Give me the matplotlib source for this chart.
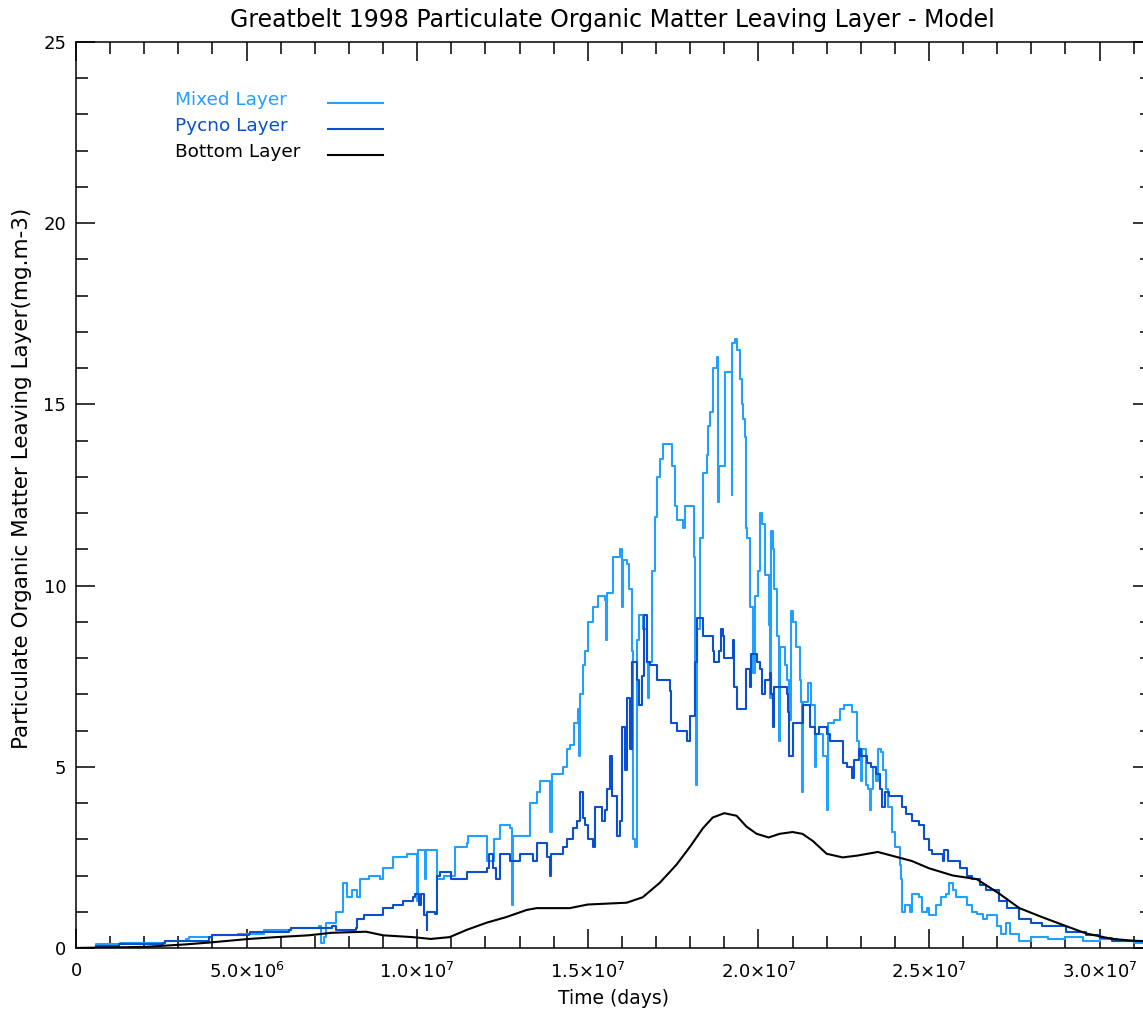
import numpy as np
import matplotlib
matplotlib.use("Agg")
import matplotlib.pyplot as plt
from matplotlib.ticker import MultipleLocator, FuncFormatter

# ---- data (time in units of 1e6 days, values in mg.m-3) ----
mixed_t = [0, 0.59, 0.6, 1.26, 1.3, 2.55, 2.6, 3.22, 3.3, 3.9, 4.0, 4.69, 4.75, 5.48, 5.5, 6.24, 6.3, 7.12,
           7.18, 7.26, 7.32, 7.62, 7.82, 7.94, 8.1, 8.23, 8.32, 8.6, 8.9, 8.99, 9.2, 9.29, 9.58, 9.7, 9.95,
           9.99, 10.03, 10.2, 10.22, 10.26, 10.5, 10.57, 10.8, 11.04, 11.1, 11.45, 11.5, 12.0, 12.04, 12.21,
           12.25, 12.42, 12.71, 12.77, 12.8, 13.21, 13.3, 13.5, 13.59, 13.8, 13.88, 13.95, 14.26, 14.38,
           14.47, 14.6, 14.7, 14.73, 14.76, 14.85, 14.91, 15.0, 15.14, 15.3, 15.5, 15.52, 15.55, 15.64,
           15.75, 15.93, 15.99, 16.02, 16.14, 16.2, 16.29, 16.3, 16.32, 16.37, 16.43, 16.5, 16.61, 16.73,
           16.75, 16.8, 16.87, 16.96, 17.02, 17.11, 17.2, 17.4, 17.46, 17.55, 17.6, 17.78, 17.85, 18.07,
           18.1, 18.13, 18.16, 18.19, 18.3, 18.37, 18.48, 18.52, 18.57, 18.66, 18.78, 18.83, 18.86, 18.95,
           19.01, 19.2, 19.22, 19.24, 19.3, 19.36, 19.45, 19.51, 19.55, 19.6, 19.65, 19.68, 19.74, 19.83,
           19.85, 19.9, 19.98, 20.04, 20.12, 20.2, 20.3, 20.33, 20.36, 20.42, 20.47, 20.55, 20.59, 20.62,
           20.77, 20.85, 20.9, 20.95, 21.0, 21.1, 21.21, 21.25, 21.27, 21.3, 21.44, 21.55, 21.65, 21.7,
           21.9, 22.0, 22.05, 22.23, 22.4, 22.5, 22.7, 22.75, 22.88, 22.95, 23.0, 23.05, 23.15, 23.2,
           23.26, 23.3, 23.35, 23.45, 23.5, 23.6, 23.65, 23.75, 23.8, 23.93, 24.0, 24.14, 24.18, 24.22,
           24.3, 24.43, 24.5, 24.72, 24.8, 24.93, 25.0, 25.22, 25.35, 25.51, 25.6, 25.69, 25.8, 26.1,
           26.27, 26.4, 26.57, 26.7, 27.0, 27.1, 27.25, 27.36, 27.65, 28.0, 28.5, 29.0, 29.5, 30.0, 30.5,
           31.0, 31.5]
mixed_v = [0.0, 0.05, 0.1, 0.1, 0.15, 0.15, 0.2, 0.25, 0.3, 0.3, 0.35, 0.35, 0.4, 0.4, 0.5, 0.5, 0.55, 0.6,
           0.15, 0.3, 0.7, 1.0, 1.8, 1.4, 1.6, 1.4, 1.9, 2.0, 1.9, 2.2, 2.2, 2.5, 2.5, 2.6, 2.6,
           1.3, 2.7, 2.7, 1.9, 2.7, 2.7, 1.9, 2.0, 2.0, 2.8, 2.9, 3.1, 3.1, 2.4, 2.4,
           3.0, 3.4, 3.3, 1.2, 3.1, 3.1, 4.0, 4.3, 4.6, 4.6, 3.2, 4.8, 5.0, 5.5,
           5.6, 6.2, 6.6, 5.3, 7.0, 7.8, 8.2, 9.0, 9.4, 9.7, 9.6, 8.5, 9.8, 9.8,
           10.8, 11.0, 9.4, 10.7, 10.6, 9.9, 9.6, 8.2, 3.0, 2.8, 8.5, 9.2, 8.8, 7.9,
           6.9, 7.9, 10.4, 11.9, 13.0, 13.5, 13.9, 13.9, 13.3, 12.2, 11.8, 11.6, 12.2, 12.2,
           10.8, 6.9, 4.5, 8.8, 11.3, 13.1, 13.6, 14.4, 14.8, 16.0, 16.3, 12.3, 13.3, 13.3,
           15.9, 15.9, 12.5, 16.7, 16.8, 16.5, 15.7, 15.0, 14.6, 14.1, 11.6, 11.3, 9.4, 9.4,
           7.6, 9.7, 10.4, 12.0, 11.7, 10.3, 8.9, 6.9, 11.5, 11.0, 9.9, 8.6, 5.7, 8.3,
           7.8, 7.4, 6.3, 9.3, 9.0, 8.3, 7.4, 6.8, 4.3, 6.8, 7.3, 6.7, 5.0, 5.9,
           5.3, 3.8, 6.2, 6.3, 6.6, 6.7, 6.7, 6.5, 5.7, 5.5, 4.6, 5.5, 4.5, 4.4,
           3.8, 4.4, 5.0, 4.6, 5.5, 5.4, 4.9, 4.4, 3.9, 3.2, 2.8, 2.3, 1.9, 1.0,
           1.2, 1.0, 1.5, 1.4, 1.0, 1.1, 0.9, 1.2, 1.4, 1.5, 1.8, 1.6, 1.4, 1.2,
           1.0, 0.95, 0.8, 0.9, 0.6, 0.4, 0.7, 0.4, 0.2, 0.3, 0.25, 0.3, 0.2, 0.25, 0.18,
           0.15, 0.15]

pycno_t = [0, 0.59, 1.26, 2.55, 2.6, 3.9, 4.0, 5.07, 5.1, 6.24, 6.3, 7.5, 7.62, 8.2, 8.23, 8.41, 8.45, 8.9,
           8.99, 9.3, 9.58, 9.87, 9.95, 10.05, 10.1, 10.2, 10.28, 10.3, 10.52, 10.57, 10.66, 11.0, 11.45,
           12.04, 12.1, 12.21, 12.3, 12.42, 12.71, 13.0, 13.39, 13.5, 13.8, 13.88, 13.92, 14.26, 14.4,
           14.56, 14.67, 14.76, 14.85, 14.91, 15.0, 15.14, 15.2, 15.41, 15.5, 15.55, 15.64, 15.7, 15.85,
           15.93, 16.0, 16.1, 16.14, 16.25, 16.29, 16.43, 16.5, 16.58, 16.65, 16.73, 16.81, 17.02, 17.4,
           17.45, 17.6, 17.9, 18.0, 18.07, 18.13, 18.19, 18.37, 18.48, 18.66, 18.7, 18.86, 18.9, 18.95,
           19.0, 19.24, 19.26, 19.28, 19.36, 19.6, 19.65, 19.74, 19.78, 19.95, 20.04, 20.12, 20.2, 20.33,
           20.36, 20.42, 20.45, 20.83, 20.88, 20.91, 21.0, 21.27, 21.3, 21.44, 21.5, 21.65, 21.79, 22.0,
           22.09, 22.47, 22.6, 22.73, 22.8, 22.96, 23.02, 23.17, 23.3, 23.46, 23.55, 23.61, 23.7, 23.84,
           24.05, 24.2, 24.34, 24.5, 24.72, 24.85, 25.01, 25.1, 25.4, 25.45, 25.55, 25.9, 26.1, 26.27,
           26.5, 26.68, 27.06, 27.3, 27.65, 28.0, 28.32, 29.03, 29.61, 30.0, 30.37, 31.5]
pycno_v = [0.0, 0.05, 0.1, 0.15, 0.2, 0.3, 0.35, 0.4, 0.45, 0.5, 0.55, 0.6, 0.5, 0.55, 0.8, 0.8, 0.9, 0.9,
           1.1, 1.2, 1.3, 1.4, 1.5, 1.2, 1.5, 0.9, 0.5, 1.0, 0.95, 2.0, 2.1, 1.9, 2.1,
           2.2, 2.6, 2.2, 1.9, 2.6, 2.4, 2.6, 2.4, 2.9, 2.5, 2.0, 2.6, 2.8, 3.0,
           3.3, 3.5, 4.3, 3.6, 3.4, 3.0, 2.8, 3.9, 3.5, 3.8, 4.4, 5.3, 4.2, 3.1,
           3.5, 6.1, 4.9, 6.9, 5.5, 7.9, 7.4, 6.7, 7.5, 9.2, 7.9, 7.8, 7.4, 7.1,
           6.2, 6.0, 5.7, 6.4, 6.4, 7.9, 9.1, 8.6, 8.6, 8.2, 7.9, 8.2, 8.8, 8.6,
           8.0, 8.0, 8.5, 7.2, 6.6, 6.6, 7.7, 7.2, 8.1, 7.9, 7.7, 7.0, 7.4, 7.6,
           7.0, 6.1, 7.2, 7.0, 6.5, 5.3, 6.2, 6.2, 6.7, 6.7, 6.1, 5.9, 6.1, 5.9,
           5.7, 5.1, 5.0, 4.7, 5.2, 5.5, 5.3, 5.1, 5.0, 4.8, 4.4, 3.9, 4.3, 4.2,
           4.2, 3.9, 3.7, 3.5, 3.4, 3.0, 2.7, 2.6, 2.4, 2.7, 2.4, 2.2, 2.0, 1.9,
           1.75, 1.6, 1.3, 1.1, 0.8, 0.7, 0.6, 0.45, 0.35, 0.27, 0.2, 0.2]

bottom_t = [0, 2.0, 3.22, 3.9, 5.07, 5.86, 6.82, 7.5, 8.5, 9.0, 9.87, 10.4, 10.95, 11.45, 12.04, 12.6,
            13.21, 13.5, 14.47, 15.0, 16.14, 16.61, 17.11, 17.6, 18.0, 18.37, 18.66, 19.0, 19.36, 19.65,
            19.95, 20.3, 20.62, 21.0, 21.29, 21.6, 22.0, 22.47, 22.9, 23.5, 24.1, 24.5, 25.0, 25.7, 26.4,
            27.06, 27.65, 28.32, 29.03, 29.61, 30.37, 31.0, 31.5]
bottom_v = [0.0, 0.03, 0.1, 0.15, 0.25, 0.3, 0.35, 0.42, 0.45, 0.35, 0.3, 0.25, 0.3, 0.5, 0.7, 0.85,
            1.05, 1.1, 1.1, 1.2, 1.25, 1.4, 1.8, 2.3, 2.8, 3.3, 3.6, 3.72, 3.65, 3.35,
            3.15, 3.05, 3.15, 3.2, 3.15, 2.95, 2.6, 2.5, 2.55, 2.65, 2.5, 2.4, 2.2, 2.0, 1.9,
            1.5, 1.1, 0.85, 0.6, 0.4, 0.25, 0.2, 0.18]

series_names = ["Mixed Layer", "Pycno Layer", "Bottom Layer"]
series_colors = ["#22A0FF", "#0A4FCB", "#000000"]
series_steps = ["steps-post", "steps-post", "default"]

title = "Greatbelt 1998 Particulate Organic Matter Leaving Layer - Model"
xlabel = "Time (days)"
ylabel = "Particulate Organic Matter Leaving Layer(mg.m-3)"

# ---- figure ----
W, H = 1143, 1010
fig = plt.figure(figsize=(W / 100, H / 100), dpi=100)
left, right, top, bottom = 76, 1152, 42, 948
ax = fig.add_axes([left / W, (H - bottom) / H, (right - left) / W, (bottom - top) / H])

scale = 1e6
for t, v, c, ds in zip([mixed_t, pycno_t, bottom_t], [mixed_v, pycno_v, bottom_v], series_colors, series_steps):
    ax.plot(np.array(t) * scale, v, color=c, lw=1.5, drawstyle=ds)

ax.set_xlim(0, 3.1536e7)
ax.set_ylim(0, 25)

ax.xaxis.set_major_locator(MultipleLocator(5e6))
ax.xaxis.set_minor_locator(MultipleLocator(1e6))
ax.yaxis.set_major_locator(MultipleLocator(5))
ax.yaxis.set_minor_locator(MultipleLocator(1))


def xfmt(val, pos):
    if abs(val) < 1:
        return "0"
    e = int(np.floor(np.log10(abs(val))))
    m = val / 10 ** e
    return "%.1f\u00d710$^{%d}$" % (m, e)


ax.xaxis.set_major_formatter(FuncFormatter(xfmt))
ax.yaxis.set_major_formatter(FuncFormatter(lambda v, p: "%d" % v))

ax.tick_params(which="both", direction="in", top=True, right=True, width=1.1, labelsize=13, colors="black")
ax.tick_params(which="major", length=14)
ax.tick_params(which="minor", length=8.5)
ax.tick_params(axis="x", which="major", pad=10)
ax.tick_params(axis="y", which="major", pad=7)
for s in ax.spines.values():
    s.set_linewidth(1.1)

fig.text(612 / W, 1 - 20 / H, title, ha="center", va="center", fontsize=17)
fig.text(613 / W, 1 - 998 / H, xlabel, ha="center", va="center", fontsize=13.5)
fig.text(22 / W, 1 - 478 / H, ylabel, ha="center", va="center", rotation=90, fontsize=15.5)

# legend
leg_y = [100, 126, 152]
for name, c, y in zip(series_names, series_colors, leg_y):
    fig.text(175 / W, 1 - y / H, name, color=c, ha="left", va="center", fontsize=13.3)
    fig.add_artist(plt.Line2D([328 / W, 383 / W], [1 - (y + 3) / H] * 2, color=c, lw=1.5,
                              transform=fig.transFigure))

fig.savefig("out.png", dpi=100)
